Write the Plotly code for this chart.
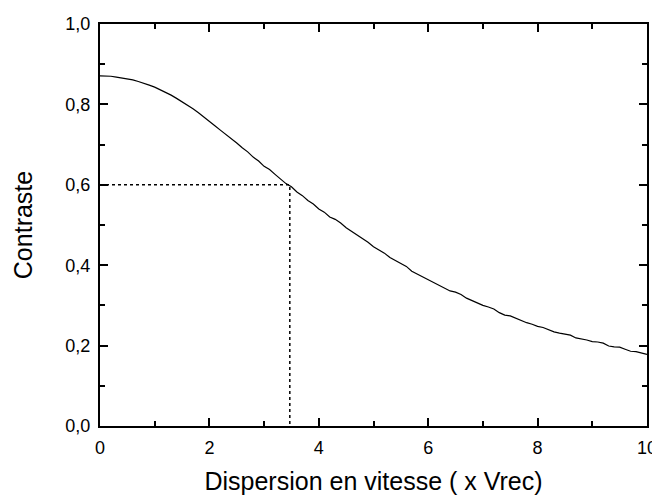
import plotly.graph_objects as go

# Data (x grid of 0.1 x Vrec)
dispersion = [round(i * 0.1, 1) for i in range(101)]
contraste = [
    0.871, 0.871, 0.870, 0.868, 0.866, 0.864, 0.861, 0.857, 0.853, 0.848,
    0.843, 0.837, 0.830, 0.823, 0.815, 0.807, 0.798, 0.789, 0.779, 0.769,
    0.758, 0.747, 0.736, 0.726, 0.714, 0.704, 0.692, 0.682, 0.669, 0.659,
    0.646, 0.638, 0.626, 0.615, 0.603, 0.595, 0.582, 0.573, 0.561, 0.552,
    0.540, 0.532, 0.520, 0.514, 0.505, 0.493, 0.484, 0.476, 0.465, 0.457,
    0.446, 0.439, 0.430, 0.419, 0.411, 0.405, 0.397, 0.385, 0.378, 0.371,
    0.362, 0.357, 0.349, 0.341, 0.336, 0.333, 0.327, 0.318, 0.312, 0.307,
    0.300, 0.296, 0.291, 0.282, 0.276, 0.274, 0.268, 0.261, 0.257, 0.253,
    0.248, 0.245, 0.240, 0.234, 0.231, 0.229, 0.226, 0.219, 0.217, 0.214,
    0.210, 0.209, 0.206, 0.199, 0.197, 0.196, 0.191, 0.186, 0.185, 0.181,
    0.178,
]

# Marked point (dotted guide lines)
mark_x = 3.47
mark_y = 0.6

fig = go.Figure()
fig.add_trace(go.Scatter(x=dispersion, y=contraste, mode="lines",
                         line=dict(color="black", width=1.2), showlegend=False,
                         hoverinfo="skip"))
fig.add_trace(go.Scatter(x=[0, mark_x, mark_x], y=[mark_y, mark_y, 0], mode="lines",
                         line=dict(color="black", width=1.5, dash="dot"),
                         showlegend=False, hoverinfo="skip"))

font_family = "Liberation Sans, Arial, sans-serif"

# The page adds an 8px body margin, so the figure is drawn at (8, 8)
fig.update_layout(
    width=652, height=487,
    margin=dict(l=92, r=13, t=16, b=69, autoexpand=False),
    paper_bgcolor="white", plot_bgcolor="white",
    separators=", ",
    font=dict(family=font_family, color="black", size=18),
    xaxis=dict(
        range=[0, 10], tickmode="linear", tick0=0, dtick=2,
        ticks="inside", ticklen=8, tickwidth=1.5, tickcolor="black",
        showline=True, linewidth=2, linecolor="black", mirror="allticks",
        showgrid=False, zeroline=False, automargin=False,
        minor=dict(dtick=1, ticks="inside", ticklen=5, tickwidth=1.5,
                   tickcolor="black", showgrid=False),
        tickfont=dict(size=18), ticklabelstandoff=4,
        title=dict(text="Dispersion en vitesse ( x Vrec)", font=dict(size=25),
                   standoff=23),
    ),
    yaxis=dict(
        range=[0, 1], tickmode="linear", tick0=0, dtick=0.2, tickformat=".1f",
        ticks="inside", ticklen=8, tickwidth=1.5, tickcolor="black",
        showline=True, linewidth=2, linecolor="black", mirror="allticks",
        showgrid=False, zeroline=False, automargin=False,
        minor=dict(dtick=0.1, ticks="inside", ticklen=5, tickwidth=1.5,
                   tickcolor="black", showgrid=False),
        tickfont=dict(size=18), ticklabelstandoff=4,
        title=dict(text="Contraste", font=dict(size=25), standoff=26),
    ),
)

fig.write_html("out.html")
